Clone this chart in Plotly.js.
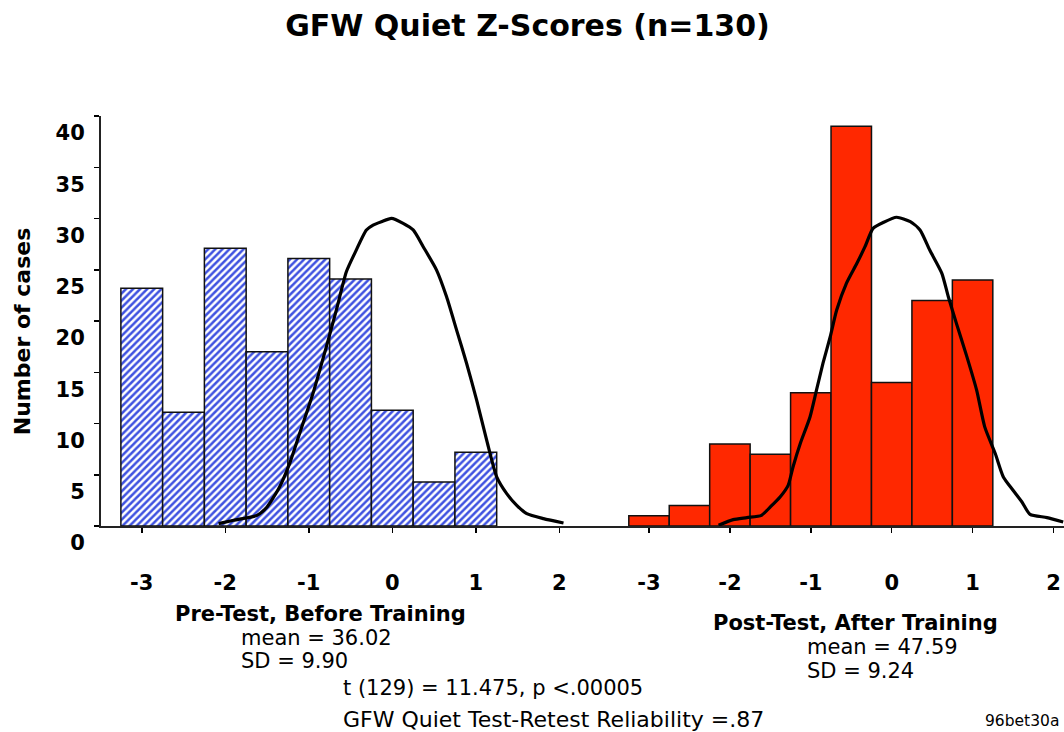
<!DOCTYPE html>
<html><head><meta charset="utf-8">
<script src="https://cdn.plot.ly/plotly-3.0.1.min.js"></script>
<style>html,body{margin:0;padding:0;background:#fff;}#chart{width:1064px;height:732px;}</style>
</head><body><div id="chart"></div>
<script>
// ---- data ----
const binCenters = [-3, -2.5, -2, -1.5, -1, -0.5, 0, 0.5, 1];
const preCounts  = [23.2, 11.1, 27.1, 17.0, 26.1, 24.1, 11.3, 4.3, 7.2];
const postCounts = [1, 2, 8, 7, 13, 39, 14, 22, 24];

const preCurveZ = [-2.08,-1.90,-1.62,-1.50,-1.35,-1.23,-1.11,-0.95,-0.79,-0.67,-0.55,-0.45,-0.31,-0.23,-0.13,-0.01,0.13,0.25,0.37,0.53,0.65,0.77,0.89,1.01,1.13,1.25,1.37,1.49,1.61,1.81,2.05];
const preCurveN = [0.23,0.56,1.04,1.86,3.81,6.09,9.02,12.93,17.48,21.06,24.80,26.60,28.88,29.36,29.69,30.02,29.53,28.88,27.25,24.97,22.36,19.11,15.86,12.28,8.37,4.79,3.16,2.02,1.21,0.72,0.29];

const postCurveZ = [-2.14,-1.96,-1.79,-1.61,-1.50,-1.38,-1.28,-1.22,-1.13,-1.01,-0.93,-0.85,-0.76,-0.68,-0.56,-0.43,-0.33,-0.23,-0.10,0.06,0.23,0.35,0.47,0.62,0.70,0.80,0.93,1.05,1.15,1.28,1.38,1.50,1.61,1.71,1.92,2.12];
const postCurveN = [0.07,0.62,0.82,1.04,1.86,2.83,3.97,5.76,8.05,10.64,13.25,15.86,18.46,21.07,23.67,25.63,27.25,29.04,29.63,30.12,29.69,28.88,26.92,24.65,22.36,19.77,16.50,13.25,9.67,7.07,4.79,3.49,2.34,1.14,0.82,0.39];

const xTickVals = [-3, -2, -1, 0, 1, 2];
const xTickText = ['-3', '-2', '-1', '0', '1', '2'];
const yTickVals = [0, 5, 10, 15, 20, 25, 30, 35, 40];
const yTickText = ['0', '5', '10', '15', '20', '25', '30', '35', '40'];

const titleText = 'GFW Quiet Z-Scores (n=130)';
const yTitleText = 'Number of cases';
const preLabel = 'Pre-Test, Before Training';
const preMean = 'mean = 36.02';
const preSD = 'SD = 9.90';
const tTest = 't (129) = 11.475, p <.00005';
const reliability = 'GFW Quiet Test-Retest Reliability =.87';
const postLabel = 'Post-Test, After Training';
const postMean = 'mean = 47.59';
const postSD = 'SD = 9.24';
const fileTag = '96bet30a';

// ---- chart ----
const FONT = 'DejaVu Sans, Arial, sans-serif';
const W = 1064, H = 732, ML = 101, MR = 0, MT = 116, MB = 206;
const PW = W - ML - MR, PH = H - MT - MB;
const px = x => (x - ML) / PW;
const py = y => (H - MB - y) / PH;

const traces = [
  { type: 'bar', x: binCenters, y: preCounts, width: 0.5, xaxis: 'x', yaxis: 'y',
    marker: { color: 'white', line: { color: '#111', width: 1.5 },
      pattern: { shape: '/', fgcolor: '#3f52e0', bgcolor: 'white', size: 5, solidity: 0.5 } },
    hoverinfo: 'skip' },
  { type: 'bar', x: binCenters, y: postCounts, width: 0.5, xaxis: 'x2', yaxis: 'y',
    marker: { color: '#ff2800', line: { color: '#111', width: 1.5 } }, hoverinfo: 'skip' },
  { type: 'scatter', mode: 'lines', x: preCurveZ, y: preCurveN, xaxis: 'x', yaxis: 'y',
    line: { color: '#000', width: 3.2, shape: 'spline', smoothing: 0.6 }, hoverinfo: 'skip', cliponaxis: false },
  { type: 'scatter', mode: 'lines', x: postCurveZ, y: postCurveN, xaxis: 'x2', yaxis: 'y',
    line: { color: '#000', width: 3.2, shape: 'spline', smoothing: 0.6 }, hoverinfo: 'skip', cliponaxis: false }
];

const split = (600 - ML) / PW;
const xCommon = {
  tickmode: 'array', tickvals: xTickVals, ticktext: xTickText,
  ticks: 'outside', ticklen: 5, tickwidth: 1.5, tickcolor: '#000',
  showline: true, linecolor: '#222', linewidth: 2, showgrid: false, zeroline: false,
  tickfont: { family: FONT, size: 21, weight: 'bold', color: '#000' },
  ticklabelstandoff: 32, anchor: 'y', fixedrange: true
};

const ann = (text, x, y, size, bold, extra) => Object.assign({
  text: text, xref: 'paper', yref: 'paper', x: px(x), y: py(y),
  xanchor: 'left', yanchor: 'middle', showarrow: false,
  font: { family: FONT, size: size, color: '#000', weight: bold ? 'bold' : 'normal' }
}, extra || {});

const layout = {
  width: W, height: H,
  margin: { l: ML, r: MR, t: MT, b: MB, pad: 0 },
  paper_bgcolor: '#fff', plot_bgcolor: '#fff', showlegend: false,
  font: { family: FONT, color: '#000' },
  title: { text: titleText, font: { family: FONT, size: 30, weight: 'bold', color: '#000' },
    xref: 'container', yref: 'container', x: 527.5 / W, y: 1 - 25 / H,
    xanchor: 'center', yanchor: 'middle' },
  xaxis: Object.assign({}, xCommon, { domain: [0, split], range: [-3.488, 2.487] }),
  xaxis2: Object.assign({}, xCommon, { domain: [split, 1], range: [-3.606, 2.130] }),
  yaxis: {
    range: [0, 40], tickmode: 'array', tickvals: yTickVals, ticktext: yTickText,
    ticks: 'outside', ticklen: 5, tickwidth: 1.5, tickcolor: '#000',
    showline: true, linecolor: '#222', linewidth: 2, showgrid: false, zeroline: false,
    tickfont: { family: FONT, size: 21, weight: 'bold', color: '#000' },
    ticklabelshift: 17, ticklabelstandoff: 5, fixedrange: true
  },
  annotations: [
    ann(yTitleText, 22.5, 331.7, 22, true, { textangle: -90, xanchor: 'center' }),
    ann(preLabel, 173, 614, 21, true),
    ann(preMean, 239, 638, 21, false),
    ann(preSD, 239, 661, 21, false),
    ann(tTest, 341, 688, 21, false),
    ann(reliability, 341, 719, 22, false),
    ann(postLabel, 711, 623, 21, true),
    ann(postMean, 805, 647, 21, false),
    ann(postSD, 805, 671, 21, false),
    ann(fileTag, 983, 721, 15.5, false)
  ]
};

Plotly.newPlot('chart', traces, layout, { staticPlot: true, displayModeBar: false });
</script>
</body></html>
